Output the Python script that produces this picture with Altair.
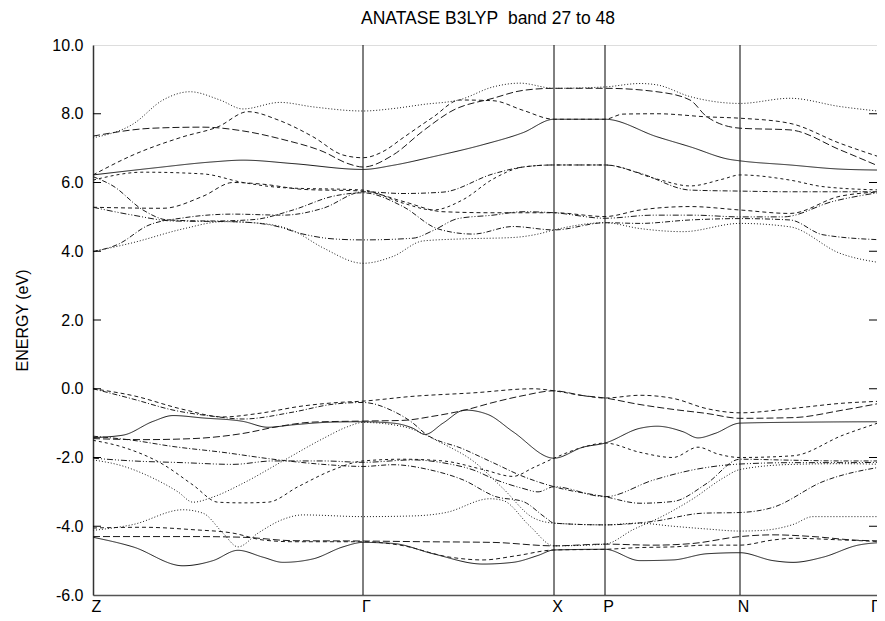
import altair as alt
import pandas as pd

# high-symmetry points (k in path units) and their labels
KPOS = [0, 270, 461, 512, 647, 791]
KLAB = ["Z", "Γ", "X", "P", "N", "Γ"]
KVIEW = 784          # visible end of the path (the last few units run past the window edge)
YTICKS = [-6, -4, -2, 0, 2, 4, 6, 8, 10]
TITLE = "ANATASE B3LYP\u00a0 band 27 to 48"

# ---- conduction bands (k, E in eV) ----
cb_a = [(0, 3.99), (40, 4.25), (90, 4.65), (130, 4.86), (165, 4.82), (200, 4.6), (230, 4.1), (270, 3.65),
        (300, 3.85), (330, 4.3), (370, 4.36), (420, 4.4), (445, 4.5), (461, 4.62), (512, 4.83), (547, 4.66),
        (590, 4.57), (647, 4.81), (697, 4.71), (747, 3.94), (791, 3.65)]
cb_b = [(0, 3.99), (25, 4.2), (55, 4.75), (90, 4.97), (140, 5.08), (190, 5.05), (230, 5.25), (270, 5.73),
        (310, 5.68), (350, 5.72), (400, 6.25), (430, 6.45), (461, 6.51), (512, 6.51), (547, 6.27), (597, 5.78),
        (647, 5.75), (697, 5.73), (747, 5.73), (791, 5.73)]
cb_c = [(0, 5.28), (40, 5.05), (80, 4.88), (140, 4.86), (180, 4.75), (210, 4.5), (240, 4.36), (270, 4.33),
        (320, 4.38), (340, 4.6), (365, 4.95), (400, 5.05), (430, 5.15), (461, 5.12), (512, 4.96), (560, 5.05),
        (600, 5.05), (647, 5.0), (690, 5.0), (740, 5.45), (791, 5.73)]
cb_d = [(0, 5.28), (70, 5.25), (110, 5.6), (140, 6.0), (170, 5.95), (210, 5.8), (270, 5.75), (310, 5.45),
        (350, 5.15), (400, 5.12), (461, 5.12), (512, 5.01), (547, 5.2), (597, 5.3), (647, 5.2), (697, 5.1),
        (747, 5.6), (791, 5.73)]
cb_e = [(0, 6.17), (20, 5.9), (50, 5.2), (75, 4.91), (120, 4.88), (160, 4.92), (200, 5.2), (240, 5.6), (270, 5.70),
        (310, 5.3), (345, 4.65), (380, 4.5), (420, 4.72), (461, 4.62), (512, 4.83), (547, 4.81), (597, 4.91),
        (647, 4.95), (697, 4.91), (730, 4.48), (791, 4.33)]
cb_f = [(0, 6.07), (50, 6.3), (110, 6.25), (150, 6.0), (190, 5.85), (270, 5.78), (310, 5.4), (340, 5.2),
        (370, 5.5), (400, 6.1), (430, 6.45), (461, 6.51), (512, 6.51), (564, 6.10), (597, 5.90), (630, 6.10),
        (647, 6.22), (697, 6.07), (730, 5.88), (791, 5.78)]
cb_g = [(0, 6.22), (60, 6.42), (120, 6.6), (150, 6.65), (200, 6.55), (270, 6.38), (300, 6.5), (340, 6.75),
        (390, 7.1), (430, 7.45), (461, 7.84), (512, 7.84), (564, 7.33), (597, 7.04), (637, 6.67), (647, 6.63),
        (697, 6.51), (747, 6.39), (791, 6.36)]
cb_h = [(0, 6.22), (40, 6.8), (90, 7.33), (125, 7.62), (155, 8.06), (185, 7.82), (220, 7.33), (250, 6.8),
        (270, 6.72), (290, 6.9), (310, 7.3), (340, 7.9), (367, 8.4), (400, 8.38), (430, 8.1), (461, 7.84),
        (512, 7.84), (530, 7.99), (564, 8.0), (614, 7.91), (647, 7.87), (697, 7.72), (747, 7.14), (791, 6.70)]
cb_i = [(0, 7.35), (60, 7.58), (110, 7.61), (150, 7.5), (190, 7.25), (230, 6.9), (255, 6.55), (270, 6.45),
        (300, 6.8), (330, 7.5), (360, 8.1), (400, 8.45), (430, 8.68), (461, 8.74), (512, 8.74), (564, 8.64),
        (597, 8.40), (614, 7.91), (647, 7.58), (697, 7.53), (747, 6.95), (791, 6.41)]
cb_j = [(0, 7.30), (40, 7.7), (70, 8.4), (97, 8.64), (127, 8.4), (150, 8.14), (187, 8.33), (220, 8.2),
        (270, 8.08), (300, 8.15), (330, 8.27), (367, 8.41), (400, 8.78), (427, 8.89), (461, 8.74), (512, 8.78),
        (547, 8.88), (564, 8.84), (597, 8.50), (647, 8.30), (697, 8.45), (747, 8.21), (791, 8.06)]

# ---- valence bands ----
vb1 = [(0, 0.0), (40, -0.2), (90, -0.6), (130, -0.82), (165, -0.72), (210, -0.5), (245, -0.4), (270, -0.36),
       (320, -0.22), (380, -0.12), (440, 0.0), (461, -0.06), (490, -0.2), (512, -0.27), (547, -0.19),
       (580, -0.28), (614, -0.58), (647, -0.70), (700, -0.57), (750, -0.42), (791, -0.36)]
vb2 = [(0, 0.0), (40, -0.3), (80, -0.62), (120, -0.8), (150, -0.88), (200, -0.68), (240, -0.45), (270, -0.40),
       (300, -0.65), (320, -1.0), (332, -1.3), (370, -1.75), (400, -2.15), (430, -2.55), (461, -2.85),
       (512, -3.14), (547, -3.33), (580, -3.28), (614, -2.75), (647, -2.05), (700, -2.08), (750, -2.1), (791, -2.10)]
vb3 = [(0, -1.42), (30, -1.35), (60, -0.95), (80, -0.78), (110, -0.85), (150, -0.95), (175, -1.12), (200, -1.05),
       (240, -0.97), (270, -0.96), (300, -1.0), (320, -1.15), (332, -1.33), (350, -1.0), (372, -0.62),
       (395, -0.75), (420, -1.25), (461, -2.02), (490, -1.7), (512, -1.58), (547, -1.15), (564, -1.09),
       (590, -1.25), (605, -1.43), (622, -1.3), (647, -1.0), (720, -0.97), (791, -0.96)]
vb4 = [(0, -1.45), (50, -1.48), (100, -1.45), (150, -1.3), (185, -1.1), (220, -0.97), (270, -0.94),
       (310, -0.92), (340, -0.8), (372, -0.62), (400, -0.4), (430, -0.2), (461, -0.06), (490, -0.2), (512, -0.27),
       (545, -0.45), (580, -0.6), (614, -0.72), (647, -0.86), (700, -0.84), (750, -0.62), (791, -0.40)]
vb5 = [(0, -1.38), (40, -1.5), (80, -1.68), (130, -1.85), (180, -2.05), (230, -2.2), (270, -2.26), (300, -2.21),
       (337, -2.36), (370, -2.65), (403, -3.14), (430, -3.28), (453, -3.76), (461, -3.91), (512, -3.96),
       (560, -3.86), (610, -3.62), (647, -3.60), (680, -3.45), (730, -2.7), (791, -2.26)]
vb6 = [(0, -1.50), (30, -1.7), (70, -2.2), (100, -2.8), (125, -3.3), (150, -3.32), (175, -3.3), (205, -2.85),
       (240, -2.36), (270, -2.10), (310, -2.05), (350, -2.1), (390, -2.35), (420, -2.55), (440, -2.3),
       (461, -2.02), (490, -1.7), (512, -1.58), (547, -1.85), (580, -2.0), (605, -1.7), (625, -1.9), (647, -2.0),
       (700, -1.95), (750, -1.35), (791, -0.94)]
vb7 = [(0, -2.02), (40, -2.1), (90, -2.15), (140, -2.2), (180, -2.1), (230, -2.1), (270, -2.14), (320, -2.07),
       (353, -2.17), (380, -2.36), (403, -2.65), (430, -2.9), (445, -3.0), (461, -2.85), (512, -3.14),
       (560, -2.66), (600, -2.36), (647, -2.19), (700, -2.15), (750, -2.15), (791, -2.14)]
vb8 = [(0, -2.07), (30, -2.25), (60, -2.6), (85, -3.0), (100, -3.3), (120, -3.15), (150, -2.75), (190, -2.1),
       (230, -1.45), (255, -1.1), (270, -0.98), (310, -1.1), (350, -1.6), (380, -2.1), (410, -2.9), (440, -3.75),
       (461, -3.91), (512, -3.96), (545, -3.91), (580, -4.0), (614, -4.08), (647, -4.14), (670, -4.12),
       (700, -3.95), (720, -3.72), (791, -3.72)]
vb9 = [(0, -4.12), (40, -3.95), (90, -3.52), (110, -3.62), (130, -4.2), (145, -4.6), (165, -4.2), (190, -3.8),
       (210, -3.67), (270, -3.72), (320, -3.70), (353, -3.6), (397, -3.2), (410, -3.25), (437, -4.0), (461, -4.57),
       (512, -4.52), (540, -4.1), (570, -3.7), (600, -3.2), (630, -2.6), (647, -2.35), (700, -2.2), (750, -2.18),
       (791, -2.20)]
vb10 = [(0, -4.30), (100, -4.3), (150, -4.32), (200, -4.42), (270, -4.43), (330, -4.45), (400, -4.47),
        (461, -4.57), (512, -4.52), (560, -4.55), (600, -4.5), (647, -4.30), (680, -4.25), (720, -4.3),
        (760, -4.4), (791, -4.43)]
vb11 = [(0, -4.32), (40, -4.6), (90, -5.15), (120, -5.0), (145, -4.7), (170, -4.9), (190, -5.05), (220, -4.95),
        (250, -4.6), (270, -4.47), (300, -4.5), (340, -4.8), (390, -5.1), (420, -5.05), (445, -4.85), (461, -4.69),
        (512, -4.67), (547, -5.0), (580, -4.98), (614, -4.8), (647, -4.77), (680, -5.0), (700, -5.05),
        (730, -4.9), (765, -4.55), (791, -4.47)]
vb12 = [(0, -4.05), (50, -4.03), (100, -4.1), (140, -4.2), (170, -4.4), (200, -4.45), (270, -4.45), (307, -4.55),
        (357, -4.9), (390, -4.98), (423, -4.86), (461, -4.69), (512, -4.67), (547, -4.62), (580, -4.6),
        (614, -4.55), (647, -4.55), (680, -4.4), (700, -4.35), (750, -4.4), (791, -4.45)]

BANDS = [
    ("cb_a", cb_a, "dot"), ("cb_b", cb_b, "dashdot"), ("cb_c", cb_c, "dashdot2"), ("cb_d", cb_d, "dash"),
    ("cb_e", cb_e, "dashdot"), ("cb_f", cb_f, "shortdash"), ("cb_g", cb_g, "solid"), ("cb_h", cb_h, "dash"),
    ("cb_i", cb_i, "longdash"), ("cb_j", cb_j, "dot"),
    ("vb1", vb1, "dash"), ("vb2", vb2, "dashdot"), ("vb3", vb3, "solid"), ("vb4", vb4, "longdash"),
    ("vb5", vb5, "dashdot"), ("vb6", vb6, "shortdash"), ("vb7", vb7, "dashdot2"), ("vb8", vb8, "dot"),
    ("vb9", vb9, "dot"), ("vb10", vb10, "longdash"), ("vb11", vb11, "solid"), ("vb12", vb12, "dash"),
]
DASHES = {
    "solid": [1, 0], "dot": [1, 2], "dash": [4, 3], "shortdash": [3, 3], "longdash": [7, 3],
    "dashdot": [5, 2, 1, 2], "dashdot2": [6, 2, 1, 2, 1, 2],
}

rows = []
for name, pts, style in BANDS:
    for k, e in pts:
        rows.append({"band": name, "k": k, "E": e})
df = pd.DataFrame(rows)

band_names = [b[0] for b in BANDS]
band_dash = [DASHES[b[2]] for b in BANDS]

W, H = KVIEW, 550
xscale = alt.Scale(domain=[0, KVIEW], nice=False, zero=False)
yscale = alt.Scale(domain=[-6, 10], nice=False, zero=False)

# the end label sits at the window edge, so only part of it shows (as in the original)
axis_k = KPOS[:-1] + [KVIEW - 5]
kmap = "{" + ",".join(f"'{k}':'{l}'" for k, l in zip(axis_k, KLAB)) + "}"
xaxis = alt.Axis(values=axis_k, labelExpr=f"{kmap}[''+datum.value]", ticks=False, grid=False,
                 labelFontSize=16, labelFont="Liberation Sans", labelColor="black", labelPadding=3,
                 labelOffset=3, domainColor="#555555", domainWidth=1.5, title=None, labelFlush=False,
                 labelOverlap=False)
yaxis = alt.Axis(values=YTICKS, labelExpr="(datum.value<0?'-':'') + format(abs(datum.value),'.1f')",
                 ticks=False, grid=False, labelFontSize=16, labelFont="Liberation Sans", labelColor="black",
                 labelPadding=10, domainColor="#333333", domainWidth=1.5, title="ENERGY (eV)",
                 titleFontSize=16, titleFontWeight="normal", titleFont="Liberation Sans", titleColor="black",
                 titlePadding=21, labelFlush=False, labelOverlap=False)

bands = alt.Chart(df).mark_line(interpolate="monotone", color="#1a1a1a", strokeWidth=1, clip=True).encode(
    x=alt.X("k:Q", scale=xscale, axis=xaxis),
    y=alt.Y("E:Q", scale=yscale, axis=yaxis),
    detail="band:N",
    order=alt.Order("k:Q"),
    strokeDash=alt.StrokeDash("band:N", scale=alt.Scale(domain=band_names, range=band_dash), legend=None),
)

vlines = alt.Chart(pd.DataFrame({"k": KPOS[1:-1]})).mark_rule(color="black", strokeWidth=1).encode(
    x=alt.X("k:Q", scale=xscale, axis=xaxis))

tick_df = pd.DataFrame({"E": YTICKS[1:-1]})
lticks = alt.Chart(tick_df).mark_rule(color="black", strokeWidth=1).encode(
    y=alt.Y("E:Q", scale=yscale, axis=yaxis), x=alt.value(0), x2=alt.value(8))
rticks = alt.Chart(tick_df).mark_rule(color="black", strokeWidth=1).encode(
    y=alt.Y("E:Q", scale=yscale, axis=yaxis), x=alt.value(W - 8), x2=alt.value(W))

title = alt.Chart(pd.DataFrame({"t": [TITLE]})).mark_text(
    font="Liberation Sans", fontSize=17.5, color="black", align="center", baseline="middle"
).encode(text="t:N", x=alt.value(395), y=alt.value(-26))

chart = alt.layer(vlines, bands, lticks, rticks, title).properties(
    width=W, height=H,
    padding={"left": 85, "top": 37, "right": 0, "bottom": 18},
    autosize=alt.AutoSizeParams(type="none"),
).configure_view(stroke="#8a8a8a", strokeWidth=2).configure(background="white")

chart.save("out.html", embed_options={"renderer": "svg", "actions": False})
